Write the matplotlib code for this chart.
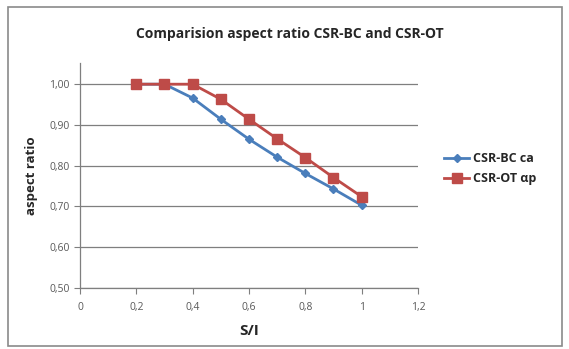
import matplotlib
matplotlib.use("Agg")
import matplotlib.pyplot as plt
from matplotlib.patches import Rectangle
from matplotlib.ticker import FuncFormatter

# S/I ratios and aspect ratios for both methods
s_over_i = [0.2, 0.3, 0.4, 0.5, 0.6, 0.7, 0.8, 0.9, 1.0]
csr_bc = [1.00, 1.00, 0.966, 0.914, 0.865, 0.821, 0.781, 0.743, 0.703]
csr_ot = [1.00, 1.00, 1.00, 0.963, 0.914, 0.866, 0.820, 0.771, 0.724]

x_ticks = [0, 0.2, 0.4, 0.6, 0.8, 1.0, 1.2]
y_ticks = [0.5, 0.6, 0.7, 0.8, 0.9, 1.0]

plt.rcParams['font.family'] = ['Open Sans', 'DejaVu Sans']


def comma_x(v, pos):
    if abs(v - round(v)) < 1e-9:
        return "%d" % round(v)
    return ("%.1f" % v).replace(".", ",")


def comma_y(v, pos):
    return ("%.2f" % v).replace(".", ",")


def main():
    fig = plt.figure(figsize=(5.69, 3.49), dpi=100)
    fig.patch.set_facecolor("white")

    # outer chart border
    fig.add_artist(Rectangle((8 / 569, 3 / 349), 554 / 569, 339 / 349,
                             transform=fig.transFigure, fill=False,
                             edgecolor="#8a8a8a", linewidth=1.2))

    ax = fig.add_axes([0.1406, 0.1748, 0.594, 0.6447])

    blue = "#4a7ebb"
    red = "#be4b48"
    ax.plot(s_over_i, csr_bc, color=blue, marker="D", markersize=4.5,
            linewidth=2, label="CSR-BC ca", zorder=3)
    ax.plot(s_over_i, csr_ot, color=red, marker="s", markersize=7,
            linewidth=2, label="CSR-OT αp", zorder=4)

    ax.set_xlim(0, 1.2)
    ax.set_ylim(0.5, 1.052)
    ax.set_xticks(x_ticks)
    ax.set_yticks(y_ticks)
    ax.xaxis.set_major_formatter(FuncFormatter(comma_x))
    ax.yaxis.set_major_formatter(FuncFormatter(comma_y))

    ax.grid(axis="y", color="#7f7f7f", linewidth=0.9)
    ax.set_axisbelow(True)
    for side in ["top", "right"]:
        ax.spines[side].set_visible(False)
    for side in ["left", "bottom"]:
        ax.spines[side].set_color("#7f7f7f")
        ax.spines[side].set_linewidth(0.9)
    ax.tick_params(axis="both", colors="#7f7f7f", labelcolor="#595959",
                   labelsize=7.5, length=4, direction="out")
    ax.tick_params(axis="x", pad=6)

    ax.set_xlabel("S/I", fontsize=11, fontweight="bold", color="#262626",
                  labelpad=8)
    ax.set_ylabel("aspect ratio", fontsize=9.5, fontweight="bold",
                  color="#262626", labelpad=8)
    fig.text(0.51, 0.903, "Comparision aspect ratio CSR-BC and CSR-OT",
             ha="center", va="center", fontsize=10, fontweight="bold",
             color="#262626")

    leg = ax.legend(loc="center left", bbox_to_anchor=(1.045, 0.53),
                    frameon=False, fontsize=9, handlelength=2.0,
                    labelspacing=0.6, handletextpad=0.3)
    for t in leg.get_texts():
        t.set_fontweight("bold")
        t.set_color("#262626")

    fig.savefig("out.png", dpi=100)


if __name__ == '__main__':
    main()
